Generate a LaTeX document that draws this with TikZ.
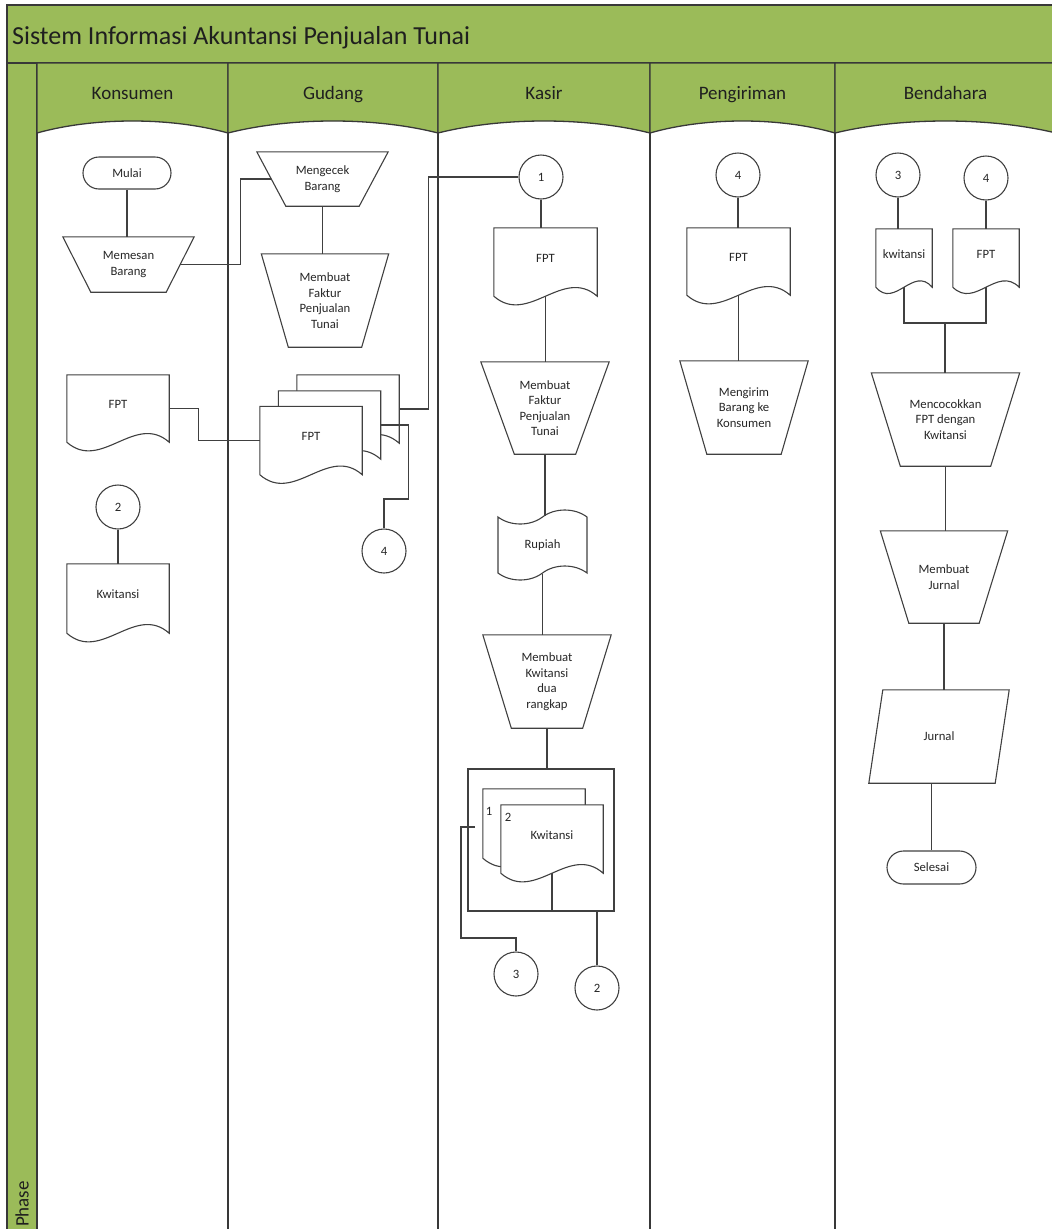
\documentclass[tikz,border=0pt]{standalone}
\usepackage{fontspec}
\setmainfont{Carlito}
\usetikzlibrary{calc,shapes.misc,shapes.symbols}

% manual operation: name, centre, mid width, height, slant, text
\newcommand{\manop}[6]{%
  \node[lbl, minimum width=#3, minimum height=#4] (#1) at (#2) {#6};
  \draw[fline] ($(#1.north west)+(-#5,0)$) -- ($(#1.north east)+(#5,0)$)
    -- ($(#1.south east)+(-#5,0)$) -- ($(#1.south west)+(#5,0)$) -- cycle;
}
% document: name, centre, width, side height, wave, text
\newcommand{\docu}[6]{%
  \node[minimum width=#3, minimum height=#4, inner sep=0pt] (#1) at (#2) {};
  \draw[fline, fill=white] (#1.south west) -- (#1.north west) -- (#1.north east) -- (#1.south east)
    .. controls ($(#1.south east)!0.333!(#1.south west)+(0,-#5)$) and ($(#1.south east)!0.667!(#1.south west)+(0,#5)$) .. (#1.south west) -- cycle;
  \node[lbl] (#1-t) at ($(#1.center)+(0,-4)$) {#6};
}

\begin{document}
\begin{tikzpicture}[x=1pt, y=-1pt,
    fline/.style={draw=black!75, line width=1.1pt},
    lane/.style={draw=black!78, line width=1.3pt},
    lbl/.style={inner sep=0pt, align=center, text=black!85, font=\fontsize{12.7}{15.5}\selectfont},
    conn/.style={fline, circle, minimum size=44, inner sep=0pt, text=black!85, font=\fontsize{12.7}{15.5}\selectfont},
    term/.style={fline, rounded rectangle, minimum width=88, minimum height=32, inner sep=0pt, text=black!85, font=\fontsize{12.7}{15.5}\selectfont},
    head/.style={anchor=base, text=black!88, font=\fontsize{19}{22}\selectfont}]
  \definecolor{phasegreen}{RGB}{155,187,89}

  \useasboundingbox (0,0) rectangle (1052,1229);
  \clip (0,0) rectangle (1052,1229);

  % title and phase column
  \draw[lane, fill=phasegreen] (7,5) rectangle (1070,63);
  \node[anchor=base west, inner sep=0pt, text=black!88, font=\fontsize{26}{30}\selectfont] (title) at (12,44) {Sistem Informasi Akuntansi Penjualan Tunai};
  \draw[lane, fill=phasegreen] (7,63) rectangle (37,1240);
  \node[rotate=90, anchor=east, inner sep=1pt, text=black!88, font=\fontsize{19}{22}\selectfont] (phase) at (22,1180) {Phase};

  % lanes
  \foreach \l/\r/\lname in {37/228/Konsumen, 228/438/Gudang, 438/650/Kasir, 650/835/Pengiriman, 835/1056/Bendahara}{
    \draw[lane, fill=phasegreen] (\l,63) -- (\r,63) -- (\r,133)
      .. controls ($(\r,133)!0.3!(\l,133)+(0,-16)$) and ($(\l,133)!0.3!(\r,133)+(0,-16)$) .. (\l,133) -- cycle;
    \draw[lane] (\l,133) -- (\l,1240);
    \node[head] (h-\lname) at ({(\l+\r)/2},99) {\lname};
  }

  % Konsumen
  \node[term] (mulai) at (127,173) {Mulai};
  \manop{memesan}{128.5,264.5}{103}{55}{14}{Memesan\\Barang}
  \docu{fptK}{118,408.5}{102}{67}{30}{FPT}
  \node[conn] (c2Ko) at (118,507) {2};
  \docu{kwK}{118,598.5}{102}{69}{30}{Kwitansi}

  % Gudang
  \manop{mengecek}{322.5,179}{102}{54}{14.5}{Mengecek\\Barang}
  \manop{fakturG}{325,300.5}{100}{93}{13.5}{Membuat\\Faktur\\Penjualan\\Tunai}
  \docu{fptG3}{348,409}{102}{68}{30}{}
  \docu{fptG2}{329.5,425}{102}{68}{30}{}
  \docu{fptG1}{311,440.5}{102}{68}{30}{FPT}
  \node[conn] (c4G) at (384,551) {4};

  % Kasir
  \node[conn] (c1) at (541,177) {1};
  \docu{fptKs}{545.5,262}{103}{68}{30}{FPT}
  \manop{fakturKs}{545,408}{94.5}{92}{16.75}{Membuat\\Faktur\\Penjualan\\Tunai}
  \node[fline, tape, minimum width=89, minimum height=70, tape bend height=14, lbl] (rupiah) at (542.5,545) {Rupiah};
  \manop{kwit2x}{547,681.5}{99.5}{93}{14.25}{Membuat\\Kwitansi\\dua\\rangkap}
  \node[fline, minimum width=146, minimum height=142] (kwbox) at (541,840) {};
  \docu{kwD1}{534,823.5}{102}{69}{30}{}
  \docu{kwD2}{552,839}{102}{68}{30}{Kwitansi}
  \node[lbl] (no1) at (489,811) {1};
  \node[lbl] (no2) at (508,817) {2};
  \coordinate (tickK) at (475,827);
  \node[conn] (c3K) at (516,974) {3};
  \node[conn] (c2K) at (597,988) {2};

  % Pengiriman
  \node[conn] (c4P) at (738,175) {4};
  \docu{fptP}{738.5,261.5}{103}{67}{30}{FPT}
  \manop{kirim}{744,407.5}{101}{93}{13.5}{Mengirim\\Barang ke\\Konsumen}

  % Bendahara
  \node[conn] (c3B) at (898,175) {3};
  \node[conn] (c4B) at (986,178) {4};
  \docu{kwB}{904,258}{56}{58}{22}{kwitansi}
  \docu{fptB}{986,258}{66}{58}{22}{FPT}
  \coordinate (merge) at (945,323);
  \manop{cocok}{945.5,419.5}{119}{93}{14.5}{Mencocokkan\\FPT dengan\\Kwitansi}
  \manop{mjurnal}{944,577}{98.5}{92}{14.25}{Membuat\\Jurnal}
  \node[lbl, minimum width=126, minimum height=93] (jurnal) at (939,736.5) {Jurnal};
  \draw[fline] ($(jurnal.north west)+(7,0)$) -- ($(jurnal.north east)+(7,0)$)
    -- ($(jurnal.south east)+(-7,0)$) -- ($(jurnal.south west)+(-7,0)$) -- cycle;
  \node[term, minimum width=89, minimum height=33] (selesai) at (931.5,867.5) {Selesai};

  % connectors
  \draw[fline] (mulai.south) -- (mulai.south |- memesan.north);
  \draw[fline] (memesan.east) -- ++(60,0) |- (mengecek.west);
  \draw[fline] (mengecek.south) -- (mengecek.south |- fakturG.north);
  \draw[fline] (fptK.east) -- ++(29,0) |- (fptG1.west);
  \draw[fline] (fptG3.east) -- ++(29,0) |- (c1.west);
  \draw[fline] (fptG2.east) -- ++(28,0) -- ++(0,74) -| (c4G.north);
  \draw[fline] (c2Ko) -- (kwK);

  \draw[fline] (c1.south) -- (c1.south |- fptKs.north);
  \draw[fline] (fptKs.south) -- (fptKs.south |- fakturKs.north);
  \draw[fline] (fakturKs.south) -- (fakturKs.south |- rupiah.north);
  \draw[fline] (rupiah.south) -- (rupiah.south |- kwit2x.north);
  \draw[fline] (kwit2x.south) -- (kwit2x.south |- kwbox.north);
  \draw[fline] (kwD2.south) -- (kwD2.south |- kwbox.south);
  \draw[fline] (tickK) -- ++(-14,0) -- ++(0,111) -| (c3K.north);
  \draw[fline] (c2K.north |- kwbox.south) -- (c2K.north);

  \draw[fline] (c4P.south) -- (c4P.south |- fptP.north);
  \draw[fline] (fptP.south) -- (fptP.south |- kirim.north);

  \draw[fline] (c3B.south) -- (c3B.south |- kwB.north);
  \draw[fline] (c4B.south) -- (c4B.south |- fptB.north);
  \draw[fline] (kwB.south) |- (merge) -| (fptB.south);
  \draw[fline] (merge) -- (merge |- cocok.north);
  \draw[fline] (cocok.south) -- (cocok.south |- mjurnal.north);
  \draw[fline] (mjurnal.south) -- (mjurnal.south |- jurnal.north);
  \draw[fline] (selesai.north |- jurnal.south) -- (selesai.north);
\end{tikzpicture}
\end{document}
